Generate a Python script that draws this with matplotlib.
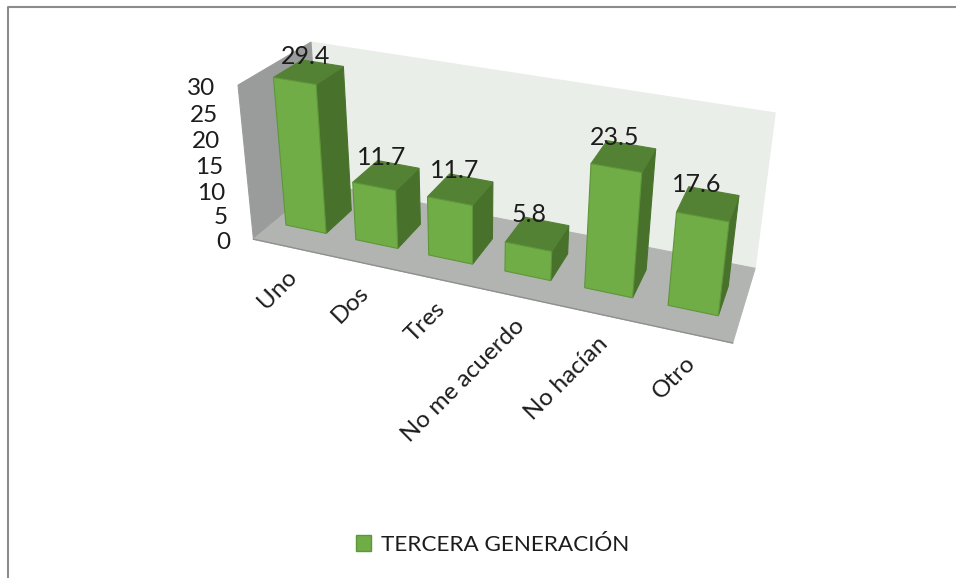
import matplotlib
matplotlib.use('Agg')
import matplotlib.pyplot as plt
from matplotlib.patches import Patch, Polygon
import numpy as np

plt.rcParams['font.family'] = ['Lato', 'DejaVu Sans']

categories = ['Uno', 'Dos', 'Tres', 'No me acuerdo', 'No hacían', 'Otro']
values = [29.4, 11.7, 11.7, 5.8, 23.5, 17.6]
y_ticks = [0, 5, 10, 15, 20, 25, 30]
series_name = 'TERCERA GENERACIÓN'

FRONT = '#70AD47'
SIDE = '#48722B'
TOP = '#548235'
EDGE = '#5E9639'
TEXT = '#1C1C1C'

# the 3d box: (category, value, depth) -> pixel, fitted on the corners of the box
box = [((0, 0, 0), (255, 241)), ((6, 0, 0), (733, 341)), ((6, 0, 1), (755, 271)),
       ((0, 0, 1), (319, 181)), ((0, 30, 0), (236, 85)), ((0, 30, 1), (313, 43)),
       ((6, 30, 1), (775, 112))]
rows = []
for (a, b, c), (u, v) in box:
    rows.append([a, b, c, 1, 0, 0, 0, 0, -u * a, -u * b, -u * c, -u])
    rows.append([0, 0, 0, 0, a, b, c, 1, -v * a, -v * b, -v * c, -v])
P = np.linalg.svd(np.array(rows, dtype=float))[2][-1].reshape(3, 4)


def proj(a, b, c):
    p = P @ np.array([a, b, c, 1.0])
    return p[0] / p[2], p[1] / p[2]


fig = plt.figure(figsize=(9.56, 5.78), dpi=100)
ax = fig.add_axes([0, 0, 1, 1])
ax.set_xlim(0, 956)
ax.set_ylim(578, 0)
ax.axis('off')


def face(corners, color, edge=None, z=1):
    ax.add_patch(Polygon([proj(*c) for c in corners], closed=True, facecolor=color,
                         edgecolor=edge or color, linewidth=0.8, zorder=z))


# frame of the chart
ax.plot([8, 8, 956], [578, 7, 7], color='#8C8C8C', lw=1.5, zorder=0)

# walls and floor
face([(0, 0, 1), (6, 0, 1), (6, 30, 1), (0, 30, 1)], '#E9EEE8')
face([(0, 0, 0), (0, 0, 1), (0, 30, 1), (0, 30, 0)], '#9A9C9B')
face([(0, 0, 0), (6, 0, 0), (6, 0, 1), (0, 0, 1)], '#B1B4B0')
ax.plot(*zip(proj(0, 0, 0), proj(6, 0, 0)), color='#8E918D', lw=1, zorder=1.5)

bar_w = 0.58
z0, z1 = 0.28, 0.68
for i, val in enumerate(values):
    l, r = i + 0.47 - bar_w / 2, i + 0.47 + bar_w / 2
    zo = 2 + i * 0.1
    face([(r, 0, z0), (r, 0, z1), (r, val, z1), (r, val, z0)], SIDE, z=zo)
    face([(l, val, z0), (r, val, z0), (r, val, z1), (l, val, z1)], TOP, z=zo)
    face([(l, 0, z0), (r, 0, z0), (r, val, z0), (l, val, z0)], FRONT, EDGE, z=zo)
    px, py = proj(i + 0.47, val, z1)
    ax.text(px - 17, py - 7, f'{val}', fontsize=18, color=TEXT, ha='center',
            va='center', zorder=5)

for t in y_ticks:
    px, py = proj(0, t, 0)
    ax.text(px - 23, py + 3, str(t), fontsize=17.5, color=TEXT, ha='right', va='center')

for i, name in enumerate(categories):
    px, py = proj(i + 0.5, 0, 0)
    ax.text(px - 3, py + 19, name, fontsize=17.5, color=TEXT, rotation=45,
            rotation_mode='anchor', ha='right', va='top')

leg = ax.legend(handles=[Patch(facecolor=FRONT, edgecolor=EDGE, label=series_name)],
                loc='center', bbox_to_anchor=(493 / 956, 1 - 545 / 578), frameon=False,
                fontsize=16.2, handlelength=0.67, handleheight=0.67, handletextpad=0.45)
leg.get_texts()[0].set_color(TEXT)

fig.savefig('out.png', dpi=100)
